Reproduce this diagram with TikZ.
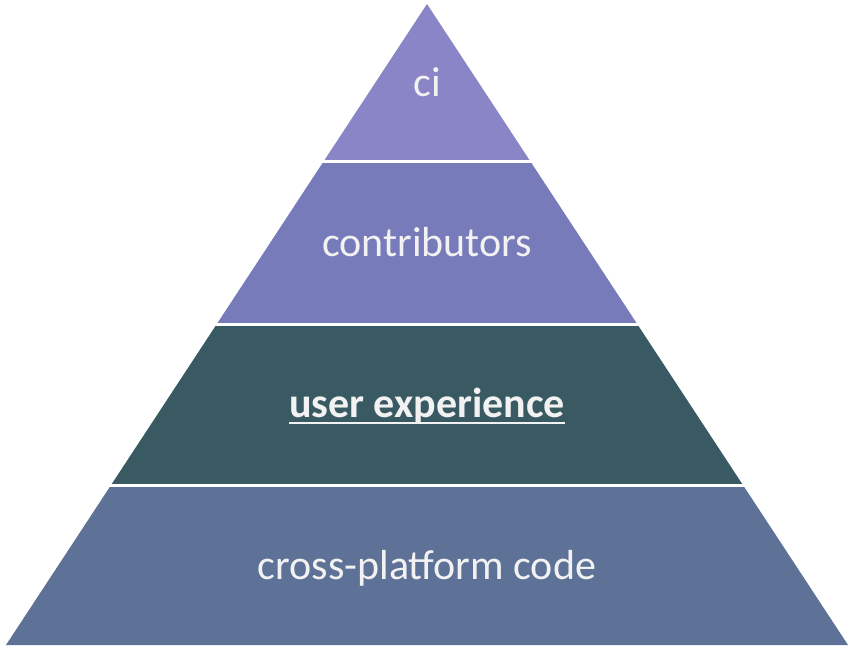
\documentclass[tikz,border=0pt]{standalone}
\usepackage{fontspec}
\setmainfont{Carlito}
\definecolor{bandA}{HTML}{8985C6}
\definecolor{bandB}{HTML}{777BB9}
\definecolor{bandC}{HTML}{3A5A63}
\definecolor{bandD}{HTML}{5E7297}
\definecolor{txt}{HTML}{F2F2F2}
\begin{document}
\begin{tikzpicture}[x=1pt,y=1pt,
  lbl/.style={text=txt,inner sep=0pt,anchor=base,font=\fontsize{42}{50}\selectfont},
  gap/.style={white,line width=3pt}]
\useasboundingbox[fill=white] (0,0) rectangle (854,649);
\def\tri{(427,645) -- (848,4) -- (6,4) -- cycle}
\begin{scope}\clip (0,487) rectangle (854,649); \fill[bandA] \tri; \end{scope}
\begin{scope}\clip (0,324.5) rectangle (854,487); \fill[bandB] \tri; \end{scope}
\begin{scope}\clip (0,163.5) rectangle (854,324.5); \fill[bandC] \tri; \end{scope}
\begin{scope}\clip (0,0) rectangle (854,163.5); \fill[bandD] \tri; \end{scope}
\draw[gap] (0,487) -- (854,487);
\draw[gap] (0,324.5) -- (854,324.5);
\draw[gap] (0,163.5) -- (854,163.5);
\node[lbl] (ci) at (427,552.5) {ci};
\node[lbl] (co) at (427,392.5) {contributors};
\node[lbl,font=\fontsize{42}{50}\selectfont\bfseries] (ue) at (427,231.5) {user experience};
\node[lbl] (cp) at (427,69.5) {cross-platform code};
\draw[txt,line width=2pt] ([yshift=-5.5pt]ue.base west) -- ([yshift=-5.5pt]ue.base east);
\end{tikzpicture}
\end{document}
